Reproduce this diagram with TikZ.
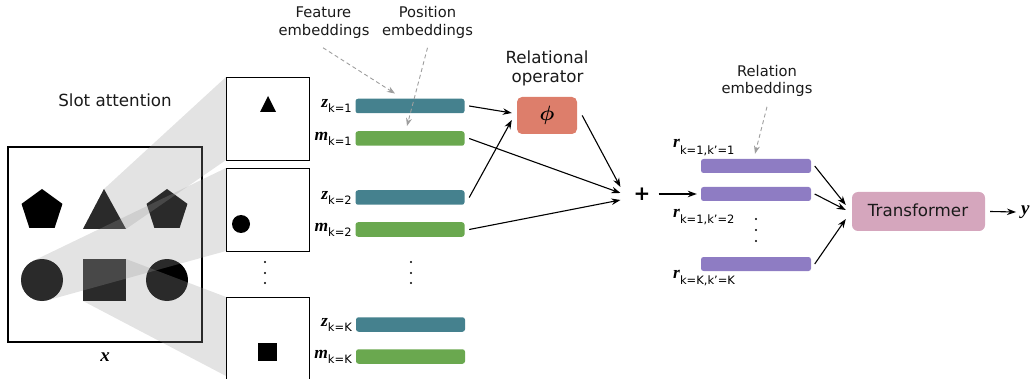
\documentclass[tikz,border=0pt]{standalone}
\usepackage{fontspec}
\usepackage{bm}
\setmainfont{DejaVu Sans}
\newfontfamily\vfam{Liberation Serif}
\usetikzlibrary{arrows.meta,shapes.geometric,calc}
\definecolor{zcol}{HTML}{45818E}
\definecolor{mcol}{HTML}{6AA84F}
\definecolor{phicol}{HTML}{DD7E6B}
\definecolor{rcol}{HTML}{8E7CC3}
\definecolor{tcol}{HTML}{D5A6BD}
\definecolor{txt}{HTML}{1A1A1A}
\newcommand\lvar[1]{{\vfam\bfseries\itshape\fontsize{17.5}{17.5}\selectfont #1}}
\newcommand\lsub[2]{\raisebox{#1}{\fontsize{11.5}{12}\selectfont #2}}
\begin{document}
\begin{tikzpicture}[x=1pt,y=-1pt,
  ann/.style={inner sep=0pt,text=txt,font=\fontsize{14.7}{17}\selectfont,anchor=base},
  big/.style={inner sep=0pt,text=txt,font=\fontsize{16.7}{19}\selectfont,anchor=base},
  pent/.style={regular polygon,regular polygon sides=5,minimum size=43pt,fill=black,inner sep=0pt},
  wedge/.style={fill=black!40,fill opacity=0.275},
  slotbox/.style={draw=black,line width=0.9pt,fill=white,minimum width=83pt,minimum height=83pt,inner sep=0pt},
  bar/.style={rounded corners=2.5pt,minimum width=109pt,minimum height=14.5pt,inner sep=0pt},
  zbar/.style={bar,fill=zcol},
  mbar/.style={bar,fill=mcol},
  rbar/.style={rounded corners=2.5pt,minimum width=110pt,minimum height=14pt,inner sep=0pt,fill=rcol},
  lab/.style={inner sep=0pt,anchor=base east},
  rlab/.style={inner sep=0pt,anchor=base west},
  arr/.style={line width=1.1pt,-{Stealth[length=9pt,width=6.5pt]}},
  darr/.style={line width=0.9pt,draw=black!38,dash pattern=on 4pt off 3pt,-{Stealth[length=8pt,width=6pt]}},
  dot/.style={fill=black}
]
\useasboundingbox (0,0) rectangle (1032,379);

% input image
\node[draw=black,line width=1.1pt,minimum width=194pt,minimum height=195pt,inner sep=0pt] (img) at (105,244.5) {};
\node[pent] (p1) at (42,210.5) {};
\fill[black] (104,189) -- (126,229) -- (83,229) -- cycle;
\node[pent] (p2) at (167,210.5) {};
\fill[black] (42,280) circle[radius=21];
\fill[black] (167,280) circle[radius=21];
\fill[black] (83,259) rectangle (126,301);
\node[inner sep=0pt,anchor=base] (xl) at (105,361) {\lvar{\fontsize{19}{19}\selectfont x}};

% wedges
\fill[wedge] (226,77) -- (226,160) -- (126,229) -- (83,229) -- (104,189) -- cycle;
\fill[wedge] (226,168) -- (226,251) -- (47.1,300.4)
  \foreach \a in {80,90,...,240} { -- ({42+21*cos(\a)},{280+21*sin(\a)}) } -- (32.8,261.1) -- cycle;
\fill[wedge] (226,297) -- (126,259) -- (83,259) -- (83,301) -- (226,376) -- cycle;

\node[big] (slot) at (115,107) {Slot attention};

% slot boxes
\node[slotbox] (b1) at (267.5,118.5) {};
\node[slotbox] (b2) at (267.5,209.5) {};
\node[slotbox] (b3) at (267.5,339) {};
\fill[black] (268,96) -- (276,112) -- (260,112) -- cycle;
\fill[black] (241,224) circle[radius=9];
\fill[black] (258,343) rectangle (277,361);
\foreach \yy in {262,273,283} { \fill[dot] (265,\yy) circle[radius=1.1]; \fill[dot] (411,\yy) circle[radius=1.1]; }

% embeddings
\node[zbar] (z1) at (410,106) {};
\node[mbar] (m1) at (410,138.5) {};
\node[zbar] (z2) at (410,197.5) {};
\node[mbar] (m2) at (410,229.5) {};
\node[zbar] (zK) at (410.5,324.5) {};
\node[mbar] (mK) at (410.5,356.5) {};
\node[lab] (lz1) at (352,108) {\lvar{z}\lsub{-5pt}{k=1}};
\node[lab] (lm1) at (352,140.5) {\lvar{m}\lsub{-5pt}{k=1}};
\node[lab] (lz2) at (352,199.5) {\lvar{z}\lsub{-5pt}{k=2}};
\node[lab] (lm2) at (352,231.5) {\lvar{m}\lsub{-5pt}{k=2}};
\node[lab] (lzK) at (352,326.5) {\lvar{z}\lsub{-5pt}{k=K}};
\node[lab] (lmK) at (352,358.5) {\lvar{m}\lsub{-5pt}{k=K}};

\node[ann] (featA) at (323.5,18) {Feature};
\node[ann] (featB) at (324,36) {embeddings};
\node[ann] (posA) at (427.5,18) {Position};
\node[ann] (posB) at (427.5,36) {embeddings};
\draw[darr] ([xshift=-1pt,yshift=-8.5pt]featB.south) -- ([xshift=-15pt,yshift=5pt]z1.north);
\draw[darr] ([yshift=-8.5pt]posB.south) -- ([xshift=-3pt,yshift=5pt]m1.north);

% relational operator
\node[big] (relA) at (547,64) {Relational};
\node[big] (relB) at (547.5,82.5) {operator};
\node[fill=phicol,rounded corners=5pt,minimum width=60pt,minimum height=37pt,inner sep=0pt,font=\fontsize{21}{21}\selectfont] (phi) at (547,115.5) {$\bm{\phi}$};
\node[inner sep=0pt,font=\bfseries\fontsize{20}{20}\selectfont] (plus) at (642,194) {+};

\draw[arr] ([xshift=4.5pt]z1.east) -- ([xshift=-5pt,yshift=2.5pt]phi.west);
\draw[arr] ([xshift=4.5pt]z2.east) -- ([xshift=-5pt,yshift=-4.5pt]phi.west);
\draw[arr] ([xshift=4.5pt]m1.east) -- ([xshift=-13pt,yshift=1pt]plus.west);
\draw[arr] ([xshift=4.5pt]m2.east) -- ([xshift=-13pt,yshift=-6pt]plus.west);
\draw[arr] ([xshift=5pt]phi.east) -- ([xshift=-13pt,yshift=7pt]plus.west);

% relation embeddings
\node[rbar] (r1) at (756,166) {};
\node[rbar] (r2) at (756,194) {};
\node[rbar] (rK) at (756,264) {};
\foreach \yy in {219,230,241} { \fill[dot] (756,\yy) circle[radius=1.1]; }
\node[rlab] (lr1) at (673,148) {\lvar{r}\lsub{-6.5pt}{k=1,k’=1}};
\node[rlab] (lr2) at (673,218) {\lvar{r}\lsub{-6pt}{k=1,k’=2}};
\node[rlab] (lrK) at (673,278) {\lvar{r}\lsub{-6.5pt}{k=K,k’=K}};
\node[ann] (reA) at (767,77) {Relation};
\node[ann] (reB) at (767,94) {embeddings};
\draw[darr] ([yshift=-9.5pt]reB.south) -- ([xshift=-1pt,yshift=5pt]r1.north);
\draw[arr] ([xshift=8pt]plus.east) -- ([xshift=-4pt]r2.west);

% transformer
\node[fill=tcol,rounded corners=6pt,minimum width=133pt,minimum height=39pt,inner sep=0pt] (T) at (918.5,211.5) {};
\node[big] (Tl) at (918,217) {Transformer};
\draw[arr] ([xshift=3.5pt]r1.east) -- ([xshift=-6pt,yshift=6.5pt]T.west);
\draw[arr] ([xshift=3.5pt]r2.east) -- ([xshift=-6pt,yshift=1.5pt]T.west);
\draw[arr] ([xshift=3.5pt]rK.east) -- ([xshift=-6pt,yshift=-7.5pt]T.west);
\node[inner sep=0pt,anchor=west] (yl) at (1021,212) {\lvar{\fontsize{19}{19}\selectfont y}};
\draw[arr] ([xshift=5pt]T.east) -- ([xshift=-5pt]yl.west);
\end{tikzpicture}
\end{document}
